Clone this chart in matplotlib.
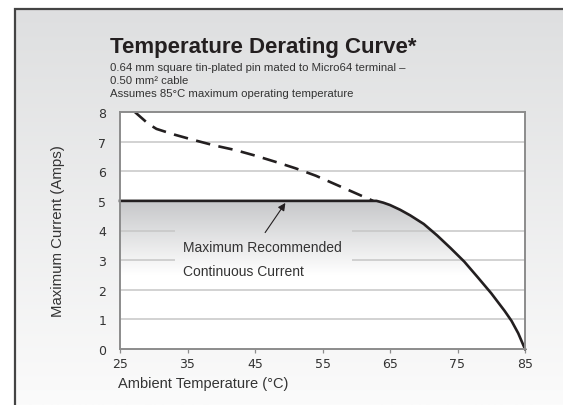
import numpy as np
import matplotlib
matplotlib.use("Agg")
import matplotlib.pyplot as plt
from matplotlib.colors import LinearSegmentedColormap
from matplotlib.patches import Polygon

plt.rcParams['font.family'] = ['Liberation Sans', 'DejaVu Sans']

# data
temp_ticks = [25, 35, 45, 55, 65, 75, 85]
amp_ticks = [0, 1, 2, 3, 4, 5, 6, 7, 8]

# recommended continuous current (solid)
rec_temp = [25, 63, 64, 65, 66.5, 68, 70, 72, 74, 76, 78, 80, 81, 82, 83, 84, 84.75, 85]
rec_amps = [5, 5, 4.94, 4.86, 4.7, 4.51, 4.22, 3.83, 3.4, 2.95, 2.42, 1.88, 1.58,
            1.28, 0.95, 0.53, 0.13, 0]

# dashed curve
max_temp = [27.2, 29.2, 30.4, 33, 36, 39, 42, 45, 48, 51, 54, 57, 60, 62.5]
max_amps = [8.0, 7.6, 7.43, 7.24, 7.05, 6.87, 6.72, 6.53, 6.32, 6.1, 5.85, 5.55, 5.25, 5.0]

W, H = 563, 406
fig = plt.figure(figsize=(W / 100, H / 100), dpi=100)

# page background: framed light gray gradient
bg = fig.add_axes([0, 0, 1, 1], zorder=-10)
bg.set_xlim(0, W)
bg.set_ylim(H, 0)
bg.axis('off')
bg_cmap = LinearSegmentedColormap.from_list('bg', ['#dedfe0', '#fbfbfb'])
grad = np.linspace(0, 1, 256).reshape(-1, 1)
bg.imshow(grad, cmap=bg_cmap, extent=[15, W, H, 9.5], aspect='auto')
bg.plot([15, 15, W], [H, 9.5, 9.5], color='#444444', lw=1.6, solid_joinstyle='miter')

ax = fig.add_axes([120 / W, 1 - 350 / H, 405 / W, 237 / H])
ax.set_xlim(25, 85)
ax.set_ylim(0, 8)
ax.set_facecolor('white')

# gradient fill under the solid curve
fill_cmap = LinearSegmentedColormap.from_list('fill', ['#ffffff', '#ffffff', '#c6c7c9'])
yy = np.linspace(0, 1, 256).reshape(-1, 1)
im = ax.imshow(yy, cmap=fill_cmap, extent=[25, 85, 0, 5], origin='lower',
               aspect='auto', zorder=1)
poly = Polygon(list(zip(rec_temp, rec_amps)) + [(85, 0), (25, 0)], closed=True,
               transform=ax.transData, facecolor='none', edgecolor='none')
ax.add_patch(poly)
im.set_clip_path(poly)
ax.set_xlim(25, 85)
ax.set_ylim(0, 8)

# grid lines (3 and 4 interrupted by the label)
for a in [1, 2, 6, 7]:
    ax.hlines(a, 25, 85, color='#c6c6c6', lw=1.1, zorder=2)
for a in [3, 4]:
    ax.hlines(a, 25, 33.1, color='#c6c6c6', lw=1.1, zorder=2)
    ax.hlines(a, 59.4, 85, color='#c6c6c6', lw=1.1, zorder=2)

ax.plot(max_temp, max_amps, color='#231f20', lw=1.9, dashes=(5.5, 3.2), zorder=4,
        solid_capstyle='butt')
ax.plot(rec_temp, rec_amps, color='#231f20', lw=1.9, zorder=4, clip_on=False,
        solid_joinstyle='round')

ax.annotate('', xy=(49.5, 4.93), xytext=(46.5, 3.93),
            arrowprops=dict(arrowstyle='-|>', color='#231f20', lw=0.8,
                            mutation_scale=11, shrinkA=0, shrinkB=0), zorder=5)
ax.text(34.3, 3.45, 'Maximum Recommended', fontsize=10, color='#333333',
        va='center', ha='left', zorder=5)
ax.text(34.3, 2.62, 'Continuous Current', fontsize=10, color='#333333',
        va='center', ha='left', zorder=5)

for s in ax.spines.values():
    s.set_color('#8c8c8c')
    s.set_linewidth(1.4)
    s.set_zorder(6)

ax.set_xticks(temp_ticks)
ax.set_yticks(amp_ticks)
tick_font = dict(family=['Liberation Sans Narrow', 'DejaVu Sans'], size=9)
ax.set_xticklabels([str(t) for t in temp_ticks], fontdict=tick_font, color='#333333')
ax.set_yticklabels([str(t) for t in amp_ticks], fontdict=tick_font, color='#333333')
ax.tick_params(axis='x', length=3, width=0.9, color='#8c8c8c', pad=3)
ax.tick_params(axis='y', length=0, pad=10)

fig.text(118 / W, 1 - 384 / H, 'Ambient Temperature (°C)', fontsize=10.5,
         color='#333333', ha='left', va='center')
fig.text(58 / W, 1 - 231 / H, 'Maximum Current (Amps)', fontsize=10.8,
         color='#333333', ha='center', va='center', rotation=90)

fig.text(110 / W, 1 - 47 / H, 'Temperature Derating Curve*', fontsize=16,
         fontweight='bold', color='#231f20', ha='left', va='center')
fig.text(110 / W, 1 - 68 / H, '0.64 mm square tin-plated pin mated to Micro64 terminal –',
         fontsize=8.2, color='#333333', ha='left', va='center')
fig.text(110 / W, 1 - 81 / H, '0.50 mm² cable', fontsize=8.2, color='#333333',
         ha='left', va='center')
fig.text(110 / W, 1 - 94 / H, 'Assumes 85°C maximum operating temperature',
         fontsize=8.2, color='#333333', ha='left', va='center')

fig.savefig('out.png', dpi=100)
